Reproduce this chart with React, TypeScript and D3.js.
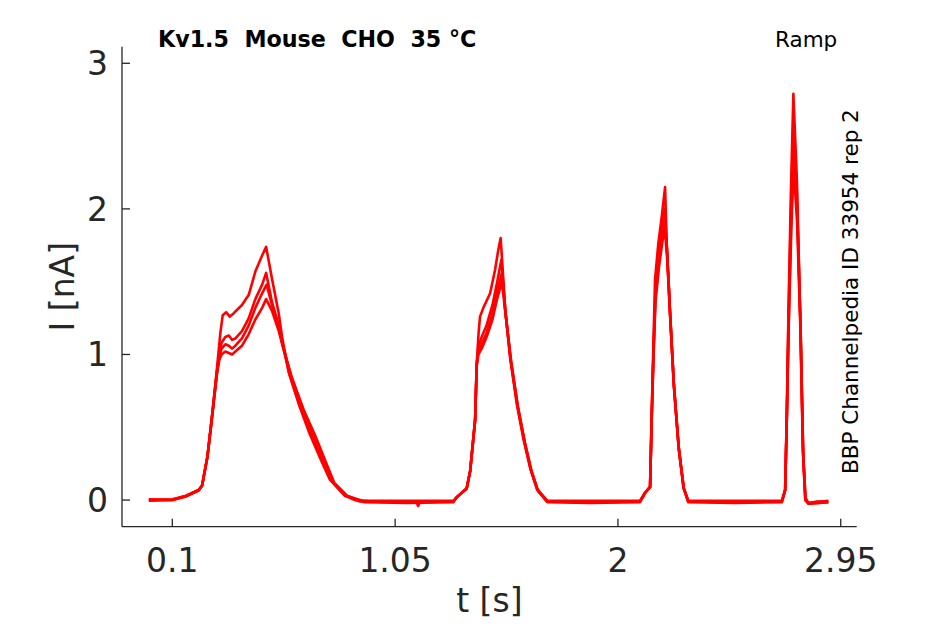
import React from "react";
import * as d3 from "d3";

// ── Data ─────────────────────────────────────────────────────────────────────
type Pt = [number, number];

const xTicks = [0.1, 1.05, 2, 2.95];
const xTickLabels = ["0.1", "1.05", "2", "2.95"];
const yTicks = [0, 1, 2, 3];
const yTickLabels = ["0", "1", "2", "3"];

const traceA: Pt[] = [
  [0.0, 0.0], [0.1, 0.0], [0.16, 0.03], [0.213, 0.07], [0.227, 0.1], [0.25, 0.3], [0.269, 0.57],
  [0.29, 0.9], [0.305, 1.15], [0.315, 1.27], [0.33, 1.29], [0.345, 1.26], [0.36, 1.28], [0.397, 1.34],
  [0.426, 1.41], [0.454, 1.57], [0.483, 1.68], [0.5, 1.74], [0.525, 1.52], [0.554, 1.28], [0.568, 1.12],
  [0.596, 0.88], [0.639, 0.66], [0.682, 0.47], [0.738, 0.26], [0.772, 0.14], [0.83, 0.04], [0.879, 0.0],
  [0.952, -0.01], [1.14, -0.012], [1.148, -0.04], [1.156, -0.012], [1.298, -0.01], [1.313, 0.02],
  [1.355, 0.08], [1.37, 0.2], [1.391, 0.55],
  [1.398, 0.94], [1.406, 1.15], [1.412, 1.26], [1.426, 1.32], [1.455, 1.42], [1.476, 1.58], [1.49, 1.72],
  [1.5, 1.8], [1.519, 1.32], [1.54, 0.98], [1.569, 0.66], [1.597, 0.42], [1.626, 0.22], [1.654, 0.08],
  [1.697, -0.01], [1.881, -0.01], [2.094, -0.01], [2.116, 0.05], [2.137, 0.09], [2.144, 0.6], [2.151, 1.05],
  [2.158, 1.51], [2.172, 1.76], [2.187, 1.95], [2.201, 2.15], [2.208, 1.76], [2.222, 1.29], [2.237, 0.83],
  [2.258, 0.38], [2.279, 0.09], [2.3, -0.01], [2.5, -0.01], [2.699, -0.01], [2.713, 0.07], [2.72, 0.6],
  [2.727, 1.28], [2.737, 2.08], [2.748, 2.79], [2.763, 2.2], [2.777, 1.28], [2.788, 0.37], [2.798, 0.02],
  [2.812, -0.02], [2.85, -0.01], [2.897, -0.01],
];

const traceB: Pt[] = [
  [0.0, 0.005], [0.1, 0.0], [0.16, 0.03], [0.213, 0.07], [0.227, 0.1], [0.25, 0.3], [0.269, 0.57],
  [0.29, 0.88], [0.3, 1.0], [0.31, 1.08], [0.326, 1.12], [0.341, 1.13], [0.355, 1.1], [0.369, 1.11],
  [0.397, 1.16], [0.426, 1.25], [0.454, 1.38], [0.483, 1.48], [0.5, 1.56], [0.525, 1.36], [0.554, 1.2],
  [0.568, 1.08], [0.6, 0.86], [0.645, 0.64], [0.69, 0.46], [0.745, 0.25], [0.78, 0.13], [0.835, 0.03],
  [0.9, -0.01], [1.1, -0.015], [1.298, -0.01], [1.313, 0.02], [1.355, 0.08], [1.37, 0.2], [1.391, 0.55],
  [1.398, 0.94], [1.405, 1.05], [1.419, 1.12], [1.44, 1.2], [1.465, 1.34], [1.483, 1.48], [1.503, 1.65],
  [1.52, 1.3], [1.542, 0.97], [1.571, 0.65], [1.6, 0.41], [1.628, 0.21], [1.656, 0.07], [1.7, -0.01],
  [1.881, -0.015], [2.094, -0.01], [2.116, 0.05], [2.137, 0.09], [2.144, 0.58], [2.151, 1.0], [2.16, 1.45],
  [2.175, 1.7], [2.19, 1.9], [2.2, 2.0], [2.209, 1.72], [2.223, 1.26], [2.238, 0.8], [2.259, 0.36],
  [2.28, 0.08], [2.3, -0.01], [2.5, -0.015], [2.699, -0.01], [2.713, 0.07], [2.72, 0.58], [2.727, 1.25],
  [2.738, 2.0], [2.748, 2.6], [2.763, 2.1], [2.778, 1.22], [2.789, 0.34], [2.799, 0.0], [2.812, -0.025],
  [2.897, -0.015],
];

const traceC: Pt[] = [
  [0.0, 0.0], [0.1, 0.005], [0.16, 0.03], [0.213, 0.07], [0.227, 0.1], [0.25, 0.3], [0.269, 0.57],
  [0.29, 0.87], [0.3, 0.98], [0.31, 1.04], [0.326, 1.07], [0.341, 1.06], [0.355, 1.04], [0.369, 1.06],
  [0.397, 1.11], [0.426, 1.2], [0.454, 1.32], [0.483, 1.42], [0.502, 1.48], [0.525, 1.34], [0.554, 1.18],
  [0.57, 1.07], [0.605, 0.86], [0.655, 0.63], [0.7, 0.45], [0.752, 0.25], [0.785, 0.12], [0.84, 0.03],
  [0.91, -0.005], [1.1, -0.005], [1.298, -0.005], [1.313, 0.02], [1.355, 0.08], [1.37, 0.2], [1.391, 0.55],
  [1.398, 0.93], [1.405, 1.02], [1.419, 1.07], [1.44, 1.15], [1.465, 1.28], [1.483, 1.42], [1.505, 1.56],
  [1.521, 1.28], [1.543, 0.96], [1.573, 0.64], [1.602, 0.4], [1.63, 0.2], [1.658, 0.07], [1.7, -0.005],
  [1.881, -0.005], [2.094, -0.005], [2.116, 0.05], [2.137, 0.09], [2.144, 0.56], [2.151, 0.98], [2.16, 1.4],
  [2.175, 1.64], [2.19, 1.82], [2.2, 1.92], [2.21, 1.7], [2.224, 1.24], [2.239, 0.78], [2.26, 0.35],
  [2.281, 0.08], [2.3, -0.005], [2.5, -0.005], [2.699, -0.005], [2.713, 0.07], [2.72, 0.56], [2.728, 1.22],
  [2.739, 1.95], [2.749, 2.45], [2.764, 2.0], [2.779, 1.18], [2.79, 0.32], [2.8, 0.0], [2.812, -0.02],
  [2.897, -0.005],
];

const traceD: Pt[] = [
  [0.0, -0.005], [0.1, 0.0], [0.16, 0.025], [0.213, 0.065], [0.227, 0.1], [0.25, 0.3], [0.269, 0.56],
  [0.29, 0.86], [0.3, 0.96], [0.31, 1.0], [0.326, 1.02], [0.341, 1.01], [0.355, 1.0], [0.369, 1.02],
  [0.397, 1.06], [0.426, 1.14], [0.454, 1.24], [0.483, 1.32], [0.5, 1.38], [0.525, 1.3], [0.554, 1.16],
  [0.572, 1.05], [0.61, 0.84], [0.66, 0.62], [0.71, 0.44], [0.76, 0.24], [0.79, 0.12], [0.845, 0.03],
  [0.92, -0.015], [1.1, -0.02], [1.298, -0.015], [1.313, 0.02], [1.355, 0.08], [1.37, 0.2], [1.391, 0.54],
  [1.398, 0.92], [1.405, 1.0], [1.419, 1.04], [1.44, 1.12], [1.465, 1.24], [1.483, 1.37], [1.505, 1.5],
  [1.522, 1.26], [1.545, 0.95], [1.575, 0.63], [1.604, 0.39], [1.632, 0.2], [1.66, 0.06], [1.7, -0.015],
  [1.881, -0.02], [2.094, -0.015], [2.116, 0.05], [2.137, 0.09], [2.144, 0.55], [2.151, 0.95], [2.16, 1.36],
  [2.175, 1.6], [2.19, 1.78], [2.2, 1.86], [2.21, 1.66], [2.224, 1.22], [2.239, 0.77], [2.26, 0.34],
  [2.281, 0.08], [2.3, -0.015], [2.5, -0.02], [2.699, -0.015], [2.713, 0.07], [2.72, 0.55], [2.728, 1.18],
  [2.739, 1.85], [2.749, 2.3], [2.764, 1.9], [2.779, 1.12], [2.79, 0.3], [2.8, 0.0], [2.812, -0.025],
  [2.897, -0.015],
];

const traces = [traceA, traceB, traceC, traceD];

const title = "Kv1.5  Mouse  CHO  35 °C";
const protocol = "Ramp";
const sideNote = "BBP Channelpedia ID 33954 rep 2";

// ── Layout ───────────────────────────────────────────────────────────────────
const W = 945;
const H = 624;
const L = 122;
const R = 856.7;
const T = 46.7;
const B = 526.7;
const AXIS = "#262626";
const FONT = "DejaVu Sans, Verdana, sans-serif";

const x = d3.scaleLinear().domain([-0.1145, 3.018]).range([L, R]);
const y = d3.scaleLinear().domain([-0.183, 3.114]).range([B, T]);

const line = d3.line<Pt>().x((d) => x(d[0])).y((d) => y(d[1]));

export default function App() {
  return (
    <svg
      width={W}
      height={H}
      style={{ position: "absolute", left: 0, top: 0, background: "#fff" }}
      fontFamily={FONT}
    >
      <rect width={W} height={H} fill="#fff" />

      {/* traces */}
      <g fill="none" stroke="#ff0000" strokeWidth={2.6} strokeLinejoin="round">
        {traces.map((t, i) => (
          <path key={i} d={line(t) ?? ""} />
        ))}
      </g>

      {/* axes */}
      <g stroke={AXIS} strokeWidth={1.3} fill="none">
        <line x1={L} x2={L} y1={T} y2={B} />
        <line x1={L} x2={R} y1={B} y2={B} />
        {xTicks.map((v) => (
          <line key={v} x1={x(v)} x2={x(v)} y1={B} y2={B - 8} />
        ))}
        {yTicks.map((v) => (
          <line key={v} x1={L} x2={L + 8} y1={y(v)} y2={y(v)} />
        ))}
      </g>

      <g fill={AXIS} fontSize={33}>
        {xTicks.map((v, i) => (
          <text key={v} x={x(v)} y={572} textAnchor="middle">
            {xTickLabels[i]}
          </text>
        ))}
        {yTicks.map((v, i) => (
          <text key={v} x={108} y={y(v) + 12} textAnchor="end">
            {yTickLabels[i]}
          </text>
        ))}
        <text x={(L + R) / 2} y={612} textAnchor="middle">
          t [s]
        </text>
        <text transform={`translate(74,${(T + B) / 2}) rotate(-90)`} textAnchor="middle">
          I [nA]
        </text>
      </g>

      <text x={158} y={47} fontSize={22.2} fontWeight="bold" fill="#000" style={{ whiteSpace: "pre" }}>
        {title}
      </text>
      <text x={775} y={47} fontSize={21.5} fill="#000">
        {protocol}
      </text>
      <text transform="translate(858,474) rotate(-90)" fontSize={21.5} fill="#000">
        {sideNote}
      </text>
    </svg>
  );
}
